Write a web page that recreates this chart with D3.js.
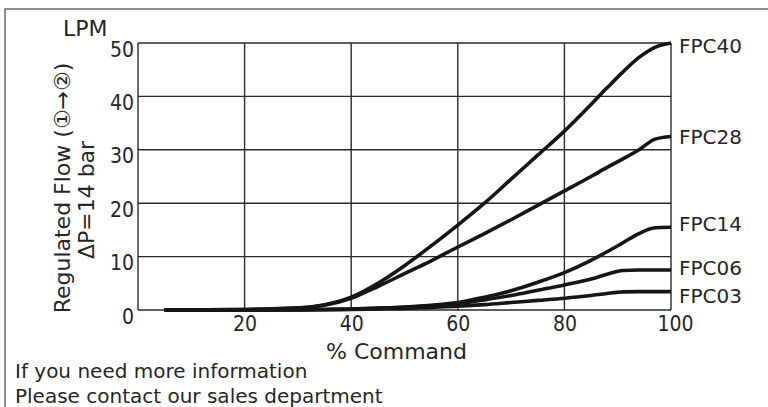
<!DOCTYPE html>
<html>
<head>
<meta charset="utf-8">
<script src="https://cdn.jsdelivr.net/npm/d3@7"></script>
<style>
  html, body { margin: 0; padding: 0; background: #fff; }
  svg { display: block; }
  .txt { font-family: "DejaVu Sans", sans-serif; fill: #262626; }
  .num { font-family: "Liberation Sans Narrow", "DejaVu Sans Condensed", "DejaVu Sans", sans-serif; fill: #262626; }
</style>
</head>
<body>
<svg id="chart" width="768" height="407"></svg>
<script>
// ---- data ----
const commandPct = [5, 20, 30, 35, 40, 45, 50, 55, 60, 65, 70, 75, 80, 85, 88, 91, 94, 97, 100];
const seriesNames = ["FPC40", "FPC28", "FPC14", "FPC06", "FPC03"];
const fpc40 = [0, 0.1, 0.4, 1.0, 2.4, 5.0, 8.3, 12.0, 15.9, 20.0, 24.5, 29.0, 33.5, 38.5, 41.6, 44.6, 47.3, 49.2, 50];
const fpc28 = [0, 0.1, 0.35, 0.9, 2.2, 4.4, 6.8, 9.2, 11.8, 14.3, 16.9, 19.6, 22.3, 25.0, 26.7, 28.3, 30.0, 32.0, 32.5];
const fpc14 = [0, 0, 0.05, 0.1, 0.2, 0.35, 0.55, 0.9, 1.4, 2.4, 3.6, 5.2, 7.0, 9.3, 10.9, 12.6, 14.3, 15.4, 15.5];
const fpc06 = [0, 0, 0.05, 0.1, 0.15, 0.3, 0.5, 0.8, 1.2, 1.9, 2.7, 3.7, 4.7, 5.8, 6.7, 7.4, 7.5, 7.5, 7.5];
const fpc03 = [0, 0, 0.03, 0.05, 0.1, 0.2, 0.3, 0.5, 0.7, 1.0, 1.4, 1.8, 2.2, 2.7, 3.1, 3.4, 3.45, 3.45, 3.45];
const xTicks = [20, 40, 60, 80, 100];
const yTicks = [0, 10, 20, 30, 40, 50];
const seriesValues = [fpc40, fpc28, fpc14, fpc06, fpc03];

// ---- layout ----
const plot = { left: 138, right: 671, top: 43, bottom: 310 };
const labelShift = [2.5, 0.5, -3.7, -2, 4.4]; // pixel nudges of the right-hand labels

const svg = d3.select("#chart");
svg.append("rect").attr("width", 768).attr("height", 407).attr("fill", "#fff");

// outer frame (top + left)
svg.append("path").attr("d", "M5,407V9H768").attr("fill", "none")
  .attr("stroke", "#6a6a6a").attr("stroke-width", 1.5);

const x = d3.scaleLinear().domain([0, 100]).range([plot.left, plot.right]);
const y = d3.scaleLinear().domain([0, 50]).range([plot.bottom, plot.top]);

// grid
const grid = svg.append("g").attr("stroke", "#2a2a2a").attr("stroke-width", 1.4);
grid.selectAll("line.h").data(yTicks).join("line")
  .attr("x1", plot.left).attr("x2", plot.right)
  .attr("y1", d => y(d)).attr("y2", d => y(d));
grid.selectAll("line.v").data([0].concat(xTicks)).join("line")
  .attr("y1", plot.top).attr("y2", plot.bottom)
  .attr("x1", d => x(d)).attr("x2", d => x(d));

// axes labels via d3 axes (domain/ticks hidden)
const yAxis = svg.append("g").attr("transform", `translate(${plot.left},0)`)
  .call(d3.axisLeft(y).tickValues(yTicks).tickSize(0).tickPadding(4));
yAxis.select(".domain").remove();
yAxis.selectAll("text").attr("class", "num").attr("font-size", 21)
  .attr("dy", "0.62em").attr("fill", "#262626");

const xAxis = svg.append("g").attr("transform", `translate(0,${plot.bottom})`)
  .call(d3.axisBottom(x).tickValues(xTicks).tickSize(0).tickPadding(6));
xAxis.select(".domain").remove();
xAxis.selectAll("text").attr("class", "num").attr("font-size", 21)
  .attr("dy", "0.72em").attr("fill", "#262626")
  .attr("dx", d => d === 100 ? 4 : 0);

// curves
const line = d3.line()
  .x((d, i) => x(commandPct[i]))
  .y(d => y(d))
  .curve(d3.curveMonotoneX);
svg.append("g").selectAll("path").data(seriesValues).join("path")
  .attr("d", d => line(d))
  .attr("fill", "none").attr("stroke", "#161616")
  .attr("stroke-width", 3.6).attr("stroke-linejoin", "round");

// series labels
svg.append("g").selectAll("text").data(seriesNames).join("text")
  .attr("class", "txt").attr("font-size", 20)
  .attr("x", plot.right + 8)
  .attr("y", (d, i) => y(seriesValues[i][seriesValues[i].length - 1]) + labelShift[i] + 7)
  .text(d => d);

// titles
svg.append("text").attr("class", "txt").attr("font-size", 22)
  .attr("x", 63).attr("y", 36).text("LPM");

svg.append("text").attr("class", "txt").attr("font-size", 22)
  .attr("text-anchor", "middle").attr("x", (plot.left + plot.right) / 2 - 8).attr("y", 359)
  .text("% Command");

svg.append("text").attr("class", "txt").attr("font-size", 22)
  .attr("text-anchor", "middle")
  .attr("transform", "translate(70,188) rotate(-90)")
  .text("Regulated Flow (①→②)");
svg.append("text").attr("class", "txt").attr("font-size", 22)
  .attr("text-anchor", "middle")
  .attr("transform", "translate(94,200) rotate(-90)")
  .text("ΔP=14 bar");

svg.append("text").attr("class", "txt").attr("font-size", 20)
  .attr("x", 15).attr("y", 378).text("If you need more information");
svg.append("text").attr("class", "txt").attr("font-size", 20)
  .attr("x", 15).attr("y", 403).text("Please contact our sales department");
</script>
</body>
</html>
